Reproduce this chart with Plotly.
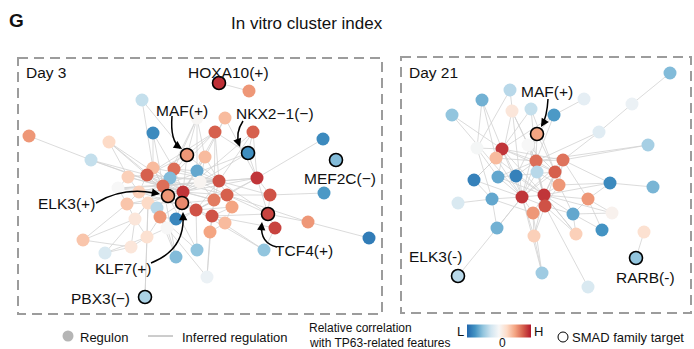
import plotly.graph_objects as go

W, H = 694, 349
FONT = "Liberation Sans, Arial, sans-serif"

# ---------------- Day 3 network (layout coordinates, value = relative correlation) -------------
d3_x = [142, 29, 109, 153, 91, 187, 153, 174, 147, 170, 197, 128, 118, 163, 139, 168, 183, 219, 249, 197,
        225, 215, 253, 323, 248, 205, 336, 257, 219, 200, 324, 227, 270, 214, 182, 127, 148, 157, 160, 176,
        135, 167, 147, 83, 131, 105, 176, 197, 145, 196, 232, 212, 268, 275, 225, 210, 308, 369, 264, 207]
d3_y = [100, 136, 142, 133, 160, 155, 168, 169, 175, 178, 171, 177, 188, 186, 192, 196, 192, 83, 91, 118,
        118, 132, 132, 139, 153, 157, 160, 178, 181, 182, 193, 195, 195, 200, 203, 204, 203, 208, 217, 219,
        219, 228, 237, 240, 247, 253, 257, 250, 297, 210, 207, 216, 214, 228, 223, 232, 222, 238, 250, 277]
d3_val = [-0.3, 0.55, 0.25, -0.8, -0.3, 0.55, 0.4, 0.7, 0.75, -0.55, -0.65, 0.3, 0.0, 0.7, 0.3, 0.55, 0.9, 0.92, 0.55, 0.02,
          0.4, 0.75, 0.75, -0.8, -0.78, 0.4, -0.55, 0.9, 0.8, 0.03, -0.72, 0.75, 0.8, 0.65, 0.6, 0.35, 0.25, -0.35, 0.55, -0.82,
          0.15, 0.0, 0.2, 0.35, 0.15, -0.2, -0.55, -0.5, -0.4, 0.8, 0.5, 0.8, 0.85, 0.85, 0.4, 0.5, 0.55, -0.88, -0.5, -0.08]
d3_target = [5, 15, 17, 24, 26, 34, 48, 52]
d3_edges = [(1, 4), (4, 8), (4, 13), (4, 16), (0, 6), (0, 5), (2, 8), (2, 11), (2, 13), (2, 16),
            (3, 6), (3, 7), (3, 13), (5, 19), (5, 8), (5, 13), (5, 16), (5, 28), (5, 21),
            (19, 7), (19, 13), (19, 25), (19, 10), (20, 25), (20, 27), (20, 16),
            (21, 24), (21, 8), (21, 28), (21, 13), (21, 33), (22, 24), (22, 27), (22, 28), (22, 16),
            (17, 18), (24, 27), (24, 13), (24, 29), (23, 27),
            (27, 28), (27, 31), (27, 32), (27, 52), (27, 16), (27, 13), (27, 49), (30, 32),
            (32, 52), (32, 28), (32, 31), (52, 56), (52, 53), (52, 28), (52, 31), (52, 51),
            (56, 57), (56, 31), (53, 58), (53, 51), (58, 51), (58, 49), (59, 41), (59, 51), (59, 55),
            (47, 49), (47, 38), (47, 15), (46, 38), (46, 13), (46, 41), (48, 42), (48, 36),
            (43, 44), (43, 40), (43, 35), (45, 44), (45, 42), (45, 36),
            (6, 8), (6, 13), (6, 15), (6, 16), (7, 13), (7, 16), (7, 28), (7, 10), (8, 11), (8, 13),
            (8, 15), (8, 14), (8, 16), (9, 13), (9, 16), (9, 28), (10, 16), (10, 28), (10, 25),
            (11, 13), (11, 14), (11, 12), (12, 14), (12, 13), (12, 16), (12, 35), (13, 15), (13, 16),
            (13, 28), (13, 14), (13, 36), (14, 15), (14, 16), (14, 35), (14, 36), (15, 16), (15, 34),
            (15, 28), (15, 36), (15, 37), (16, 28), (16, 29), (16, 31), (16, 34), (16, 33), (16, 49),
            (25, 28), (25, 16), (25, 29), (28, 29), (28, 31), (28, 33), (28, 49), (29, 31), (29, 33),
            (31, 33), (31, 49), (31, 50), (33, 49), (33, 34), (33, 51), (34, 49), (34, 38), (34, 39),
            (34, 36), (35, 36), (35, 40), (36, 37), (36, 38), (36, 42), (37, 38), (38, 39), (38, 41),
            (38, 42), (39, 49), (39, 41), (40, 42), (40, 44), (41, 42), (41, 49), (42, 44), (49, 50),
            (49, 51), (50, 51), (50, 54), (51, 54), (51, 55), (54, 55), (13, 49), (8, 28), (11, 16),
            (12, 28), (35, 15), (14, 49), (40, 36), (13, 33), (6, 28), (8, 31)]

# ---------------- Day 21 network -------------
d21_x = [670, 510, 482, 584, 632, 452, 512, 531, 554, 537, 599, 648, 477, 502, 528, 496, 536, 563, 537, 555,
         474, 498, 516, 559, 610, 653, 458, 492, 522, 544, 545, 588, 533, 573, 612, 497, 602, 534, 576, 644,
         636, 458, 542, 588]
d21_y = [73, 90, 100, 99, 104, 115, 111, 109, 115, 134, 132, 145, 148, 149, 145, 158, 161, 160, 172, 172,
         180, 177, 176, 185, 183, 187, 203, 199, 197, 195, 206, 199, 213, 214, 213, 228, 230, 236, 234, 232,
         258, 276, 273, 287]
d21_val = [-0.55, -0.35, -0.6, -0.12, -0.08, -0.5, 0.15, -0.3, -0.72, 0.5, -0.15, -0.42, -0.02, 0.9, 0.0, 0.4, 0.7, 0.68, -0.35, 0.75,
           -0.85, -0.65, -0.85, 0.55, -0.8, -0.58, -0.2, -0.65, 0.9, 0.9, 0.8, 0.55, 0.55, -0.65, 0.05, -0.6, -0.75, 0.3, 0.3, 0.2,
           -0.5, -0.35, -0.45, -0.2]
d21_target = [9, 40, 41]
d21_edges = [(0, 4), (4, 10), (10, 17), (10, 16), (3, 8), (11, 17), (11, 16), (1, 12), (1, 28),
             (2, 13), (2, 15), (2, 12), (5, 13), (5, 28), (6, 14), (6, 21), (6, 16), (7, 16), (7, 13), (7, 19),
             (8, 9), (8, 13), (8, 16), (9, 16), (9, 19), (9, 22), (9, 28), (12, 13), (12, 21), (12, 27),
             (13, 15), (13, 16), (13, 19), (13, 28), (13, 29), (13, 22), (13, 17), (14, 16), (14, 19), (14, 29),
             (15, 16), (15, 28), (15, 29), (15, 20), (16, 17), (16, 19), (16, 22), (16, 28), (16, 29), (16, 30),
             (16, 21), (17, 19), (17, 23), (17, 24), (17, 29), (17, 31), (17, 28), (18, 28), (18, 29), (18, 23),
             (19, 23), (19, 28), (19, 29), (19, 30), (19, 21), (20, 28), (20, 27), (20, 15), (21, 28), (21, 29),
             (22, 29), (22, 28), (23, 24), (23, 29), (23, 30), (23, 33), (24, 25), (24, 29), (24, 31),
             (26, 27), (27, 28), (27, 35), (27, 32), (28, 29), (28, 30), (28, 32), (28, 37), (28, 35),
             (29, 30), (29, 31), (29, 33), (29, 38), (29, 32), (30, 32), (30, 33), (30, 37), (30, 43), (30, 38),
             (31, 33), (31, 34), (31, 36), (32, 37), (32, 42), (33, 36), (33, 38), (33, 34), (34, 29),
             (35, 41), (35, 28), (37, 42), (37, 29), (38, 29), (39, 40), (42, 28)]

# ---------------- labels ----------------
d3_labels = ["HOXA10(+)", "MAF(+)", "NKX2\u22121(\u2212)", "MEF2C(\u2212)", "ELK3(+)", "KLF7(+)", "PBX3(\u2212)", "TCF4(+)"]
d3_label_x = [228, 182, 275, 340, 66, 123, 100, 304]
d3_label_y = [72, 110, 113, 178, 203, 268, 298, 250]
d21_labels = ["MAF(+)", "ELK3(-)", "RARB(-)"]
d21_label_x = [547, 435, 645]
d21_label_y = [91, 256, 277]

# curved arrows: (start, control, end)
arrows = [((172, 116), (170, 141), (182, 149)),
          ((243, 121), (235, 133), (240, 147)),
          ((96, 203), (122, 187), (160, 194)),
          ((151, 263), (184, 250), (183, 212)),
          ((277, 247), (260, 243), (262, 222)),
          ((548, 99), (547, 117), (541, 127))]

colorscale = [[0.0, "#2166ac"], [0.125, "#4393c3"], [0.25, "#92c5de"], [0.375, "#d1e5f0"],
              [0.5, "#f7f7f7"], [0.625, "#fddbc7"], [0.75, "#f4a582"], [0.875, "#d6604d"], [1.0, "#b2182b"]]


def edge_xy(xs, ys, edges):
    ex, ey = [], []
    for a, b in edges:
        ex += [xs[a], xs[b], None]
        ey += [ys[a], ys[b], None]
    return ex, ey


fig = go.Figure()
for xs, ys, edges in [(d3_x, d3_y, d3_edges), (d21_x, d21_y, d21_edges)]:
    ex, ey = edge_xy(xs, ys, edges)
    fig.add_trace(go.Scatter(x=ex, y=ey, mode="lines", line=dict(color="#d2d2d2", width=0.8),
                             hoverinfo="skip", showlegend=False))

first = True
for xs, ys, vals, tg in [(d3_x, d3_y, d3_val, d3_target), (d21_x, d21_y, d21_val, d21_target)]:
    lw = [1.6 if i in tg else 0 for i in range(len(xs))]
    fig.add_trace(go.Scatter(
        x=xs, y=ys, mode="markers", showlegend=False, hoverinfo="skip",
        marker=dict(size=13, color=vals, colorscale=colorscale, cmin=-1, cmax=1,
                    line=dict(color="black", width=lw), opacity=1,
                    showscale=first,
                    colorbar=dict(orientation="h", x=499 / W, xanchor="center", y=1 - 330.5 / H,
                                  yanchor="middle", len=64, lenmode="pixels", thickness=13,
                                  thicknessmode="pixels", outlinewidth=0, showticklabels=False,
                                  ticks="", xpad=0, ypad=0))))
    first = False

# legend markers
fig.add_trace(go.Scatter(x=[68], y=[336], mode="markers", showlegend=False, hoverinfo="skip",
                         marker=dict(size=11, color="#b5b5b5")))
fig.add_trace(go.Scatter(x=[563], y=[337], mode="markers", showlegend=False, hoverinfo="skip",
                         marker=dict(size=10, color="white", line=dict(color="black", width=1))))

shapes = [
    dict(type="rect", xref="x", yref="y", x0=18, y0=58, x1=382, y1=314,
         line=dict(color="#9c9c9c", width=2, dash="10px,6px")),
    dict(type="rect", xref="x", yref="y", x0=401, y0=57, x1=691, y1=313,
         line=dict(color="#9c9c9c", width=2, dash="10px,6px")),
    dict(type="line", xref="x", yref="y", x0=148, y0=336, x1=173, y1=336,
         line=dict(color="#9a9a9a", width=1)),
]
annotations = []
for (sx, sy), (cx, cy), (ex_, ey_) in arrows:
    shapes.append(dict(type="path", xref="x", yref="y",
                       path=f"M {sx} {sy} Q {cx} {cy} {ex_ - (ex_ - cx) * 0.15} {ey_ - (ey_ - cy) * 0.15}",
                       line=dict(color="black", width=1.5)))
    # arrowhead along the tangent at the end
    tx, ty = ex_ - cx, ey_ - cy
    n = (tx * tx + ty * ty) ** 0.5
    annotations.append(dict(x=ex_, y=ey_, ax=ex_ - tx / n * 10, ay=ey_ - ty / n * 10,
                            xref="x", yref="y", axref="x", ayref="y", text="",
                            showarrow=True, arrowhead=2, arrowsize=1.1, arrowwidth=1.5,
                            arrowcolor="black", standoff=0, startstandoff=0))


def txt(x, y, s, size=15.5, anchor="center", bold=False):
    annotations.append(dict(x=x, y=y, xref="x", yref="y", text=f"<b>{s}</b>" if bold else s,
                            showarrow=False, xanchor=anchor, yanchor="middle",
                            font=dict(family=FONT, size=size, color="#111111")))


for s, x, y in zip(d3_labels, d3_label_x, d3_label_y):
    txt(x, y, s)
for s, x, y in zip(d21_labels, d21_label_x, d21_label_y):
    txt(x, y, s)

txt(16, 20, "G", size=19, bold=True)
txt(307, 23, "In vitro cluster index", size=17)
txt(24, 72, "Day 3", anchor="left")
txt(407, 72, "Day 21", anchor="left")
txt(78, 337, "Regulon", size=13, anchor="left")
txt(180, 337, "Inferred regulation", size=13, anchor="left")
txt(307, 328, "Relative correlation", size=12, anchor="left")
txt(307, 343, "with TP63-related features", size=12, anchor="left")
txt(460, 331, "L", size=13)
txt(538, 331, "H", size=13)
txt(502, 343, "0", size=12)
txt(570, 337, "SMAD family target", size=13, anchor="left")

fig.update_layout(
    width=W, height=H, autosize=False, margin=dict(l=0, r=0, t=0, b=0),
    paper_bgcolor="white", plot_bgcolor="white",
    xaxis=dict(range=[0, W], visible=False, fixedrange=True),
    yaxis=dict(range=[H, 0], visible=False, fixedrange=True),
    shapes=shapes, annotations=annotations, font=dict(family=FONT),
)
fig.write_html("out.html")
